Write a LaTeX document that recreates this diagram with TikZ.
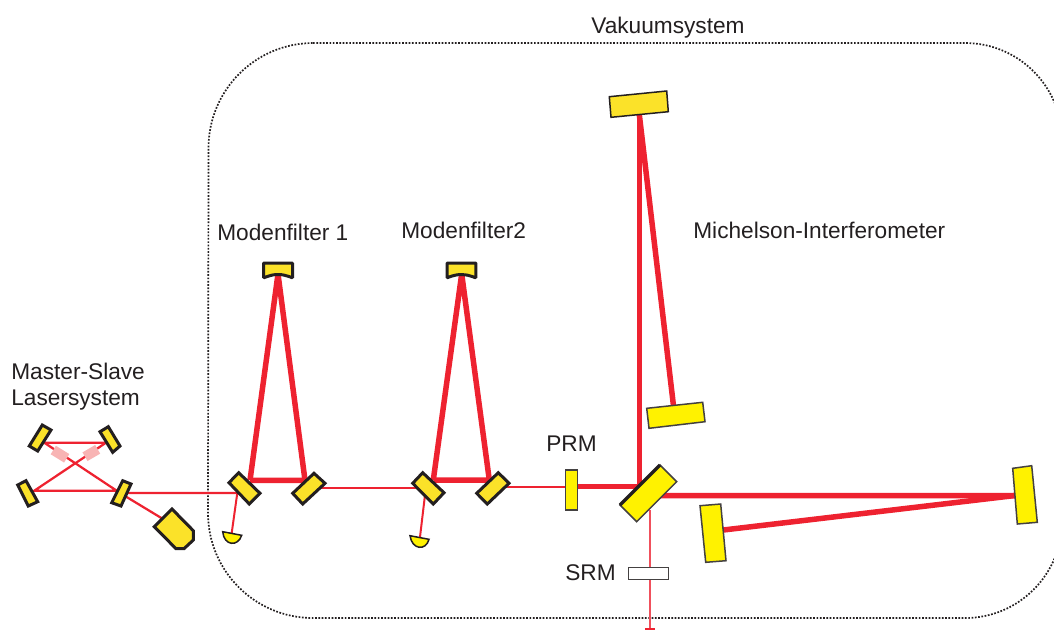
\documentclass[tikz,border=0pt]{standalone}
\usepackage{fontspec}
\setmainfont{Liberation Sans}
\definecolor{beamred}{HTML}{EE2230}
\definecolor{thinred}{HTML}{F0505C}
\definecolor{pinkish}{HTML}{F8B4B4}
\definecolor{myellow}{HTML}{FBE229}
\definecolor{pyellow}{HTML}{FFF200}
\definecolor{ink}{HTML}{231F20}
\tikzset{
  x=0.02cm,y=-0.02cm,
  lbl/.style={font=\fontsize{12.9pt}{15pt}\selectfont,text=ink,inner sep=0pt,anchor=base west},
  thickbeam/.style={draw=beamred,line width=0.11cm},
  thinbeam/.style={draw=beamred,line width=0.045cm},
  lightbeam/.style={draw=thinred,line width=0.035cm},
  crystal/.style={draw=pinkish,line width=0.2cm},
  boldmirror/.style={draw=ink,fill=myellow,line width=0.06cm,line join=miter},
  finemirror/.style={draw=ink!85,fill=pyellow,line width=0.03cm,line join=miter},
  detector/.style={draw=ink,fill=pyellow,line width=0.03cm},
  vacuum/.style={draw=ink,line width=0.034cm,dash pattern=on 0.034cm off 0.032cm},
}
\begin{document}
\begin{tikzpicture}
\useasboundingbox (0,0) rectangle (1054,630);
% vacuum enclosure
\begin{scope}
\clip (0,0) rectangle (1054,630);
\draw[vacuum] (313,43) -- (965,43) arc[start angle=-90,end angle=0,radius=97] -- (1062,521) arc[start angle=0,end angle=90,radius=97] -- (313,618) arc[start angle=90,end angle=180,radius=105] -- (208.5,148) arc[start angle=180,end angle=270,radius=105] -- cycle;
\end{scope}
% beam points
\coordinate (a1) at (44.3,442.7);
\coordinate (a2) at (106,442.7);
\coordinate (a3) at (34.3,490.7);
\coordinate (a4) at (116.7,490.7);
\coordinate (a5) at (126,493);
\coordinate (a6) at (237.3,493);
\coordinate (lasr) at (163,519);
\coordinate (a7) at (125,496);
\coordinate (d1) at (231.7,533);
\coordinate (f1l) at (250,480.3);
\coordinate (f1r) at (305,480.3);
\coordinate (f1t) at (278,274);
\coordinate (f2i) at (320,487.5);
\coordinate (f2j) at (418,487.5);
\coordinate (d2a) at (425,495);
\coordinate (d2) at (420,537);
\coordinate (f2l) at (433.3,480);
\coordinate (f2r) at (489.3,480);
\coordinate (f2t) at (461.7,274);
\coordinate (p1) at (505,486.7);
\coordinate (p2) at (566,486.7);
\coordinate (p3) at (577,486.7);
\coordinate (bs) at (641.5,486.7);
\coordinate (up) at (639,486.7);
\coordinate (top) at (639,112);
\coordinate (low) at (673.5,406);
\coordinate (e1) at (655,495.7);
\coordinate (e2) at (1015,495.5);
\coordinate (e3) at (723.3,530);
\coordinate (s1) at (650,510);
\coordinate (s2) at (650,628);
% beams
\draw[thinbeam] (a1) -- (a2) -- (a3) -- (a4) -- (a1);
\draw[crystal] (53.3,450) -- (66.7,458.3);
\draw[crystal] (85,456.7) -- (97.7,449.3);
\draw[thinbeam] (a5) -- (a6) (a7) -- (lasr);
\draw[thinbeam,line width=0.04cm] (a6) -- (d1);
\draw[thickbeam] (f1l) -- (f1t) (f1t) -- (f1r) (f1l) -- (f1r);
\draw[thinbeam,line width=0.04cm] (f2i) -- (f2j);
\draw[thinbeam,line width=0.04cm] (d2a) -- (d2);
\draw[thickbeam] (f2l) -- (f2t) (f2t) -- (f2r) (f2l) -- (f2r);
\draw[thinbeam,line width=0.04cm] (p1) -- (p2);
\draw[thickbeam] (p3) -- (bs);
\draw[thickbeam,line width=0.1cm] (up) -- (top);
\draw[thickbeam] (top) -- (low);
\draw[thickbeam] (e1) -- (e2);
\draw[thickbeam] (e2) -- (e3);
\draw[lightbeam] (s1) -- (s2);
\draw[thinbeam,line width=0.04cm] (645,628.5) -- (655,628.5);
% laser optics
\draw[boldmirror] (42.3,425) -- (51,430) -- (37.7,451) -- (29.3,446) -- cycle;
\draw[boldmirror] (108.3,426.7) -- (120,446) -- (112.7,452.3) -- (100,431.7) -- cycle;
\draw[boldmirror] (26,480.7) -- (37.7,501.7) -- (28.3,506) -- (17.7,485) -- cycle;
\draw[boldmirror] (122.7,480.7) -- (131,484) -- (121,506) -- (111.7,502.7) -- cycle;
\draw[boldmirror] (172,509) -- (193.3,530.7) -- (193.3,540) -- (184,548.7) -- (176,548.7) -- (154.3,526.7) -- cycle;
% mode cleaner 1
\draw[boldmirror] (238.7,472.7) -- (260,493.3) -- (249.3,504) -- (229,482.7) -- cycle;
\draw[boldmirror] (314,473.3) -- (325,483.3) -- (302.7,504) -- (292.7,493.3) -- cycle;
\draw[boldmirror,line join=bevel] (263.7,263) -- (292.5,263) -- (292.5,277.8) .. controls (285,275) and (282,274.5) .. (278,274.5) .. controls (274,274.5) and (271,275) .. (263.7,277.8) -- cycle;
\draw[detector] (222.7,531.7) -- (241.7,535.3) .. controls (238,547) and (224,546) .. (222.7,531.7) -- cycle;
% mode cleaner 2
\draw[boldmirror] (422.7,472.7) -- (444,492.7) -- (433.3,504) -- (412.7,483.3) -- cycle;
\draw[boldmirror] (498.3,472.7) -- (509,483.3) -- (487.3,504) -- (476.7,493.3) -- cycle;
\draw[boldmirror,line join=bevel] (447,263) -- (475.8,263) -- (475.8,277.8) .. controls (468,275) and (465.5,274.5) .. (461.7,274.5) .. controls (458,274.5) and (454,275) .. (447,277.8) -- cycle;
\draw[detector] (410,535.7) -- (429,539.3) .. controls (426,551) and (412,550) .. (410,535.7) -- cycle;
% interferometer
\draw[finemirror] (565.7,470) rectangle (577.3,510);
\draw[finemirror] (660,465) -- (676.7,481.7) -- (636.7,521.7) -- (620,505) -- cycle;
\draw[draw=ink,line width=0.07cm] (620,505) -- (660,465);
\draw[boldmirror,line width=0.03cm] (609.3,96.7) -- (666.7,91) -- (668.3,111.7) -- (611,117.3) -- cycle;
\draw[finemirror] (646.7,408.3) -- (702.7,402.3) -- (705,421.7) -- (649,428.3) -- cycle;
\draw[finemirror] (1012.7,468.3) -- (1031.7,465.7) -- (1037.3,522.3) -- (1017.3,524) -- cycle;
\draw[finemirror] (700,505.7) -- (720.7,504) -- (726,560.7) -- (705.7,562.3) -- cycle;
\draw[draw=ink!85,fill=white,line width=0.03cm] (628.3,567.3) rectangle (668.3,579.3);
% labels
\node[lbl] (vac) at (591,33.5) {Vakuumsystem};
\node[lbl] (mf1) at (217,240.5) {Modenfilter 1};
\node[lbl] (mf2) at (401,238.5) {Modenfilter2};
\node[lbl] (mi) at (693,238.5) {Michelson-Interferometer};
\node[lbl] (ms) at (11,379.5) {Master-Slave};
\node[lbl] (ls) at (11,405) {Lasersystem};
\node[lbl] (prm) at (546,451.5) {PRM};
\node[lbl] (srm) at (565,580) {SRM};
\end{tikzpicture}
\end{document}
